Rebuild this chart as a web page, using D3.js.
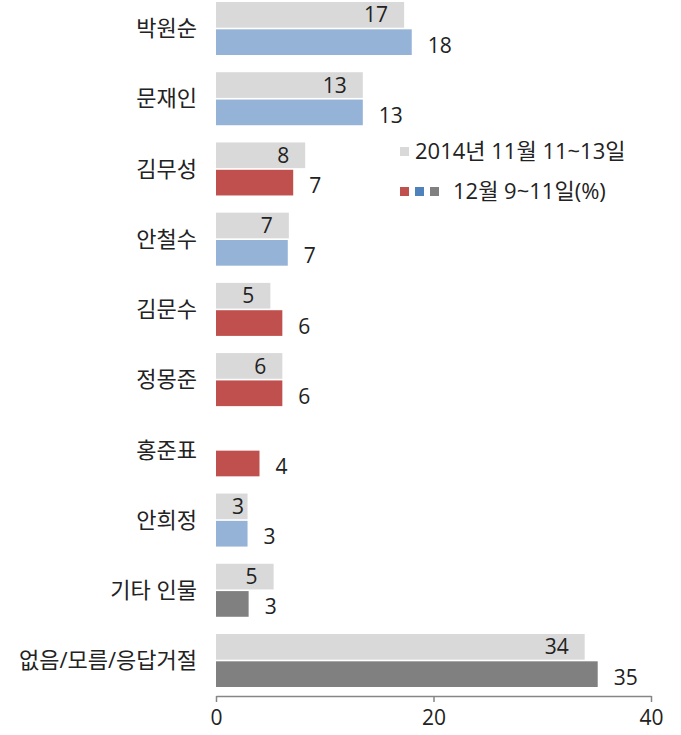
<!DOCTYPE html>
<html>
<head>
<meta charset="utf-8">
<script src="https://cdn.jsdelivr.net/npm/d3@7"></script>
<style>
  body { margin: 0; background: #fff; }
  text { font-family: "Open Sans", "Noto Sans CJK KR", sans-serif; fill: #222; }
</style>
</head>
<body>
<div id="chart"></div>
<script>
const chartWidth = 681;
const chartHeight = 735;

// data
const names = ["박원순", "문재인", "김무성", "안철수", "김문수", "정몽준", "홍준표", "안희정", "기타 인물", "없음/모름/응답거절"];
const prevValues = [17.3, 13.5, 8.2, 6.7, 5.0, 6.1, null, 2.9, 5.3, 33.9];
const prevLabels = ["17", "13", "8", "7", "5", "6", "", "3", "5", "34"];
const currValues = [18.0, 13.5, 7.1, 6.6, 6.1, 6.1, 4.0, 2.9, 3.0, 35.1];
const currLabels = ["18", "13", "7", "7", "6", "6", "4", "3", "3", "35"];
const partyColor = ["#95b3d7", "#95b3d7", "#c0504d", "#95b3d7", "#c0504d", "#c0504d", "#c0504d", "#95b3d7", "#808080", "#808080"];
const xTicks = [0, 20, 40];
const legendLabels = ["2014년 11월 11~13일", "12월 9~11일(%)"];

const prevColor = "#d9d9d9";
const fontSize = 21;
const labelPad = 16;

const svg = d3.select("#chart").append("svg")
    .attr("width", chartWidth)
    .attr("height", chartHeight);

const x = d3.scaleLinear().domain([0, 40]).range([216, 651]);

const y = d3.scaleBand()
    .domain(names)
    .range([-6.6, 695.6])
    .paddingInner(0.245)
    .paddingOuter(0.1225);

const ySub = d3.scaleBand()
    .domain(["prev", "curr"])
    .range([0, y.bandwidth()])
    .paddingInner(0.06);

const rows = names.map((name, i) => ({
    name,
    prev: prevValues[i],
    prevLabel: prevLabels[i],
    curr: currValues[i],
    currLabel: currLabels[i],
    color: partyColor[i]
}));

const groups = svg.selectAll("g.row")
    .data(rows)
    .enter().append("g")
    .attr("class", "row")
    .attr("transform", d => `translate(0,${y(d.name)})`);

// previous survey bars (light gray), label inside end
const prevRows = groups.filter(d => d.prev != null);
prevRows.append("rect")
    .attr("x", x(0))
    .attr("y", ySub("prev"))
    .attr("width", d => x(d.prev) - x(0))
    .attr("height", ySub.bandwidth())
    .attr("fill", prevColor);

prevRows.append("text")
    .attr("y", ySub("prev") + ySub.bandwidth() / 2)
    .attr("dy", "0.36em")
    .attr("font-size", fontSize)
    .text(d => d.prevLabel)
    .attr("x", function(d) {
        // label box can't start before the bar does
        const w = this.getComputedTextLength();
        return Math.max(x(d.prev) - labelPad - w, x(0) + labelPad);
    });

// current survey bars (party colour), label outside end
groups.append("rect")
    .attr("x", x(0))
    .attr("y", ySub("curr"))
    .attr("width", d => x(d.curr) - x(0))
    .attr("height", ySub.bandwidth())
    .attr("fill", d => d.color);

groups.append("text")
    .attr("x", d => x(d.curr) + labelPad)
    .attr("y", ySub("curr") + ySub.bandwidth() / 2)
    .attr("dy", "0.5em")
    .attr("font-size", fontSize)
    .text(d => d.currLabel);

// category names
groups.append("text")
    .attr("x", x(0) - 19)
    .attr("y", y.bandwidth() / 2)
    .attr("dy", "0.35em")
    .attr("text-anchor", "end")
    .attr("font-size", 22)
    .text(d => d.name);

// x axis
const xAxis = svg.append("g")
    .attr("transform", "translate(0,696)")
    .call(d3.axisBottom(x).tickValues(xTicks).tickSize(6).tickSizeOuter(0).tickPadding(8));

xAxis.select(".domain").attr("stroke", "#868686").attr("stroke-width", 1.5);
xAxis.selectAll(".tick line").attr("stroke", "#868686").attr("stroke-width", 1.5);
xAxis.selectAll(".tick text")
    .attr("font-size", fontSize)
    .attr("fill", "#222")
    .style("font-family", "'Open Sans', 'Noto Sans CJK KR', sans-serif");

// legend
const legend = svg.append("g");

legend.append("rect")
    .attr("x", 400).attr("y", 147)
    .attr("width", 9).attr("height", 9)
    .attr("fill", prevColor);

legend.append("text")
    .attr("x", 415).attr("y", 159)
    .attr("font-size", 22)
    .text(legendLabels[0]);

legend.selectAll("rect.sw")
    .data(["#c0504d", "#4f81bd", "#808080"])
    .enter().append("rect")
    .attr("class", "sw")
    .attr("x", (d, i) => 400 + i * 15)
    .attr("y", 187)
    .attr("width", 9).attr("height", 9)
    .attr("fill", d => d);

legend.append("text")
    .attr("x", 453).attr("y", 199)
    .attr("font-size", 22)
    .text(legendLabels[1]);
</script>
</body>
</html>
